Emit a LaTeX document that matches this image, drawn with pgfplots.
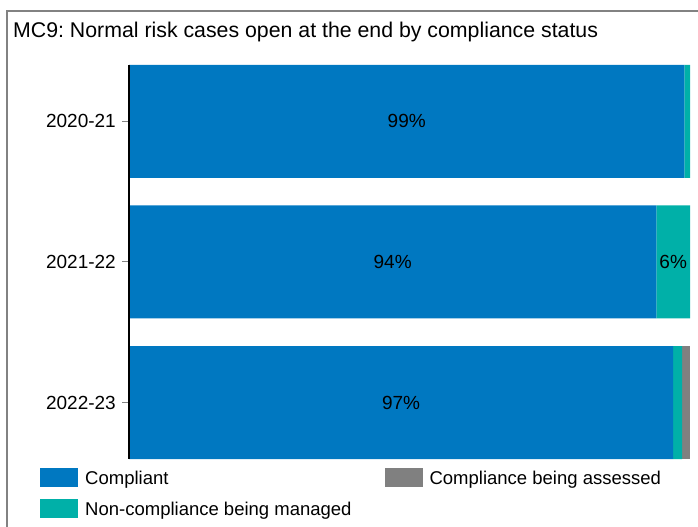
\documentclass[border=0pt]{standalone}
\usepackage{fontspec}
\setmainfont{Liberation Sans}
\usepackage{pgfplots}
\usepackage{pgfplotstable}
\pgfplotsset{compat=1.18}
\frenchspacing

\definecolor{compliant}{RGB}{0,120,193}
\definecolor{managed}{RGB}{0,176,168}
\definecolor{assessed}{RGB}{128,128,128}
\definecolor{framegray}{RGB}{130,130,130}

% Share of normal risk cases open at year end, by compliance status (%)
\pgfplotstableread{
y x label
0 99 99\%
1 94 94\%
2 97 97\%
}\compliantdata
\pgfplotstableread{
y x label
0 1 {}
1 6 6\%
2 1.6 {}
}\manageddata
\pgfplotstableread{
y x label
0 0 {}
1 0 {}
2 1.4 {}
}\assesseddata

\begin{document}
\begin{tikzpicture}[x=1bp,y=1bp]
\useasboundingbox (0,0) rectangle (698,527);
% outer frame: only its left and top sides fall inside the picture
\draw[framegray, line width=1.2bp] (7,0) -- (7,516) -- (698,516);
\node[anchor=base west, inner sep=0, font=\fontsize{21.3bp}{25bp}\selectfont]
  at (13,489) {MC9: Normal risk cases open at the end by compliance status};
\begin{axis}[
  at={(129bp,68bp)}, anchor=south west,
  scale only axis, width=561bp, height=394bp,
  xbar stacked, bar width=113bp,
  xmin=0, xmax=100, ymin=-0.4, ymax=2.4,
  y dir=reverse,
  axis on top,
  axis x line=none, axis y line=left,
  y axis line style={-, black, line width=2bp},
  ytick={0,1,2}, yticklabels={2020-21,2021-22,2022-23},
  ytick pos=left, tick align=outside,
  major tick length=7bp,
  ytick style={framegray, line width=1bp},
  yticklabel style={font=\fontsize{19bp}{23bp}\selectfont, inner xsep=6bp},
  point meta=explicit symbolic,
  nodes near coords={\pgfplotspointmeta},
  every node near coord/.append style={font=\fontsize{19bp}{23bp}\selectfont, black},
  legend cell align=left,
  legend image code/.code={\fill[#1, draw=none] (0bp,-9bp) rectangle (38bp,10bp);},
  legend columns=2,
  legend style={
    at={(-0.1586,-0.0228)}, anchor=north west,
    draw=none, fill=none, inner sep=0pt, row sep=12bp,
    font=\fontsize{18.5bp}{22bp}\selectfont,
    nodes={inner sep=0pt},
    /tikz/every odd column/.append style={column sep=7bp},
    /tikz/every even column/.append style={column sep=33bp},
  },
]
\addplot[fill=compliant, draw=none, forget plot] table[x=x, y=y, meta=label] {\compliantdata};
\addplot[fill=managed, draw=none, forget plot] table[x=x, y=y, meta=label] {\manageddata};
\addplot[fill=assessed, draw=none, forget plot] table[x=x, y=y, meta=label] {\assesseddata};
\addlegendimage{fill=compliant}
\addlegendentry{Compliant}
\addlegendimage{fill=assessed}
\addlegendentry{Compliance being assessed}
\addlegendimage{fill=managed}
\addlegendentry{Non-compliance being managed}
\end{axis}
\end{tikzpicture}
\end{document}
